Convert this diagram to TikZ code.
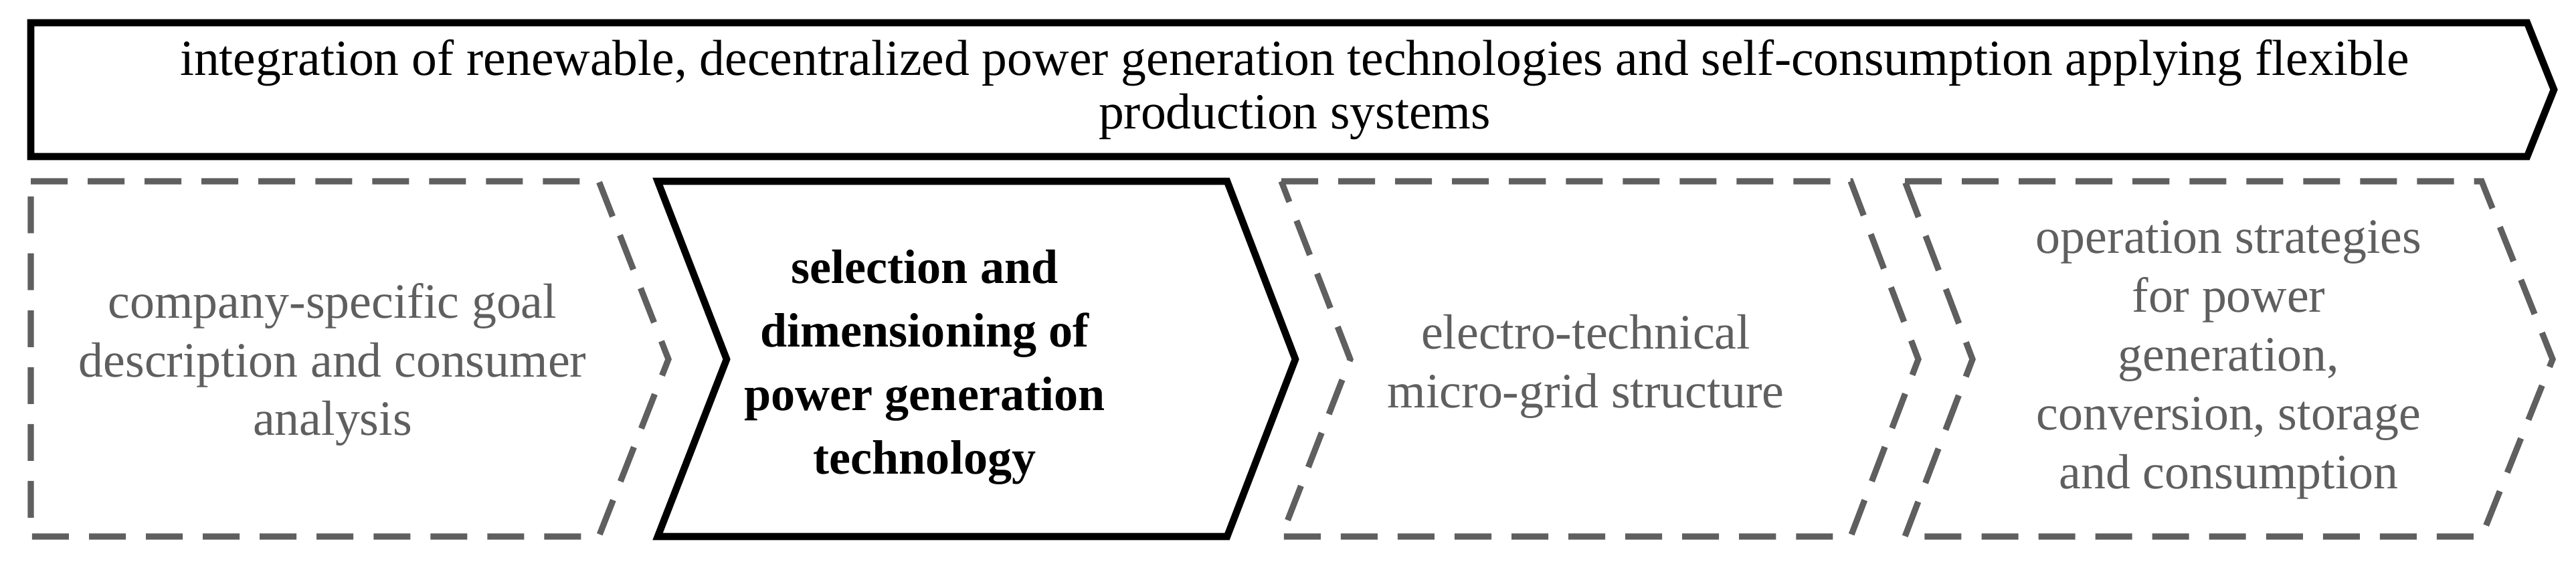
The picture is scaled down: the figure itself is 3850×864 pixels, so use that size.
\documentclass[tikz,border=0pt]{standalone}
\usepackage{fontspec}
\setmainfont{Liberation Serif}
\definecolor{dg}{HTML}{5F5F5F}
\begin{document}
\begin{tikzpicture}[x=0.01cm,y=-0.01cm,
  solidbox/.style={draw=black,line width=3pt,line join=miter},
  dashbox/.style={draw=dg,line width=2.6pt,dash pattern=on 0.55cm off 0.3cm},
  gtxt/.style={text=dg,align=center,font=\fontsize{21}{25}\selectfont,inner sep=0},
  btxt/.style={text=black,align=center,font=\fontsize{20.5}{27}\selectfont\bfseries,inner sep=0}]
\useasboundingbox (0,0) rectangle (3850,864);
\draw[solidbox] (46,34) -- (3777,34) -- (3817,134) -- (3777,234) -- (46,234) -- cycle;
\node[align=center,font=\fontsize{21.5}{22.5}\selectfont,inner sep=0] (top) at (1935,134) {integration of renewable, decentralized power generation technologies and self-consumption applying flexible\\production systems};
\draw[dashbox] (46,271) -- (895,271) -- (999,537) -- (895,802) -- (46,802) -- cycle;
\draw[solidbox] (983,271) -- (1834,271) -- (1936,537) -- (1834,802) -- (983,802) -- (1086,537) -- cycle;
\draw[dashbox] (1915,271) -- (2766,271) -- (2867,537) -- (2766,802) -- (1915,802) -- (2018,537) -- cycle;
\draw[dashbox] (2847,271) -- (3709,271) -- (3815,537) -- (3709,802) -- (2847,802) -- (2948,537) -- cycle;
\node[gtxt] (b1) at (497,545) {company-specific goal\\description and consumer\\analysis};
\node[btxt] (b2) at (1382,549) {selection and\\dimensioning of\\power generation\\technology};
\node[gtxt] (b3) at (2370,548) {electro-technical\\micro-grid structure};
\node[gtxt] (b4) at (3331,538) {operation strategies\\for power\\generation,\\conversion, storage\\and consumption};
\end{tikzpicture}
\end{document}
